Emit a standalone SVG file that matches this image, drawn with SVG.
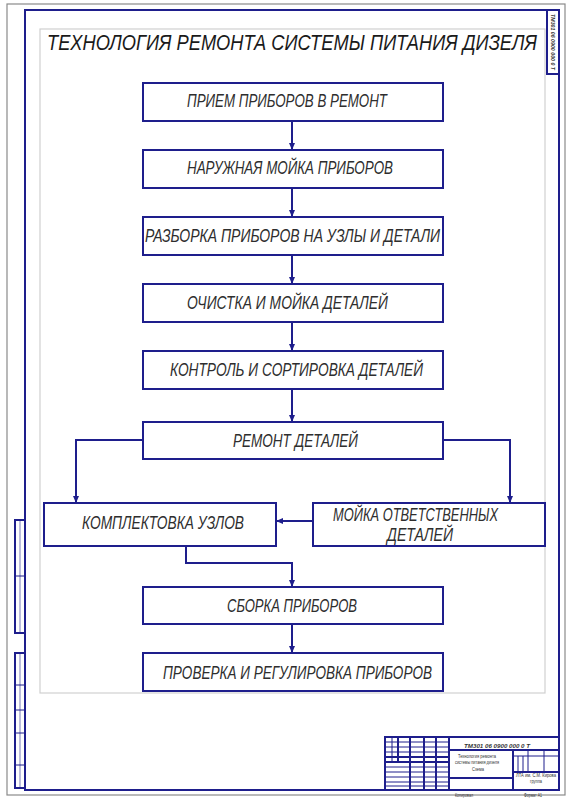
<svg xmlns="http://www.w3.org/2000/svg" width="571" height="800" viewBox="0 0 571 800">
<style>
.frame{fill:none;stroke:#1e1e8c;stroke-width:2}
.thin{fill:none;stroke:#1e1e8c;stroke-width:1}
.box{fill:#fff;stroke:#1e1e8c;stroke-width:2}
.con{fill:none;stroke:#1e1e8c;stroke-width:2}
.t{font-family:"Liberation Sans",Arial,sans-serif;font-style:italic;font-size:18px;fill:#2e2e2e}
.title{font-family:"Liberation Sans",Arial,sans-serif;font-style:italic;font-size:18px;fill:#1a1a1a}
.tiny{font-family:"Liberation Sans",Arial,sans-serif;font-size:5px;fill:#333}
</style>
<defs>
<marker id="ah" markerUnits="userSpaceOnUse" markerWidth="8" markerHeight="8" refX="7" refY="4" orient="auto">
<path d="M0,1 L7,4 L0,7 Z" fill="#1e1e8c"/>
</marker>
</defs>
<rect x="0" y="0" width="571" height="800" fill="#fff"/>
<rect x="7" y="4" width="558" height="791" fill="none" stroke="#8a8a8a" stroke-width="1.2"/>
<rect x="25" y="10" width="534" height="780" class="frame"/>
<rect x="40" y="29" width="505" height="664" fill="none" stroke="#d0d0d0" stroke-width="1.2"/>
<g id="stamp-top">
<rect x="547" y="10" width="12" height="64" class="frame"/>
<text class="tiny" font-size="6" font-weight="bold" font-style="italic" transform="translate(551,14) rotate(90)" textLength="56" lengthAdjust="spacingAndGlyphs">ТМ301 06 0900 000 0 Т</text>
</g>
<g id="left-strips">
<rect x="15" y="520" width="10" height="113" class="frame"/>
<line x1="15" y1="576" x2="25" y2="576" class="thin"/>
<rect x="15" y="653" width="10" height="135" class="frame"/>
<line x1="15" y1="685" x2="25" y2="685" class="thin"/>
<line x1="15" y1="710" x2="25" y2="710" class="thin"/>
<line x1="15" y1="733" x2="25" y2="733" class="thin"/>
<line x1="15" y1="765" x2="25" y2="765" class="thin"/>
<line x1="20" y1="520" x2="20" y2="633" stroke="#1e1e8c" stroke-width="0.6"/>
<line x1="20" y1="653" x2="20" y2="788" stroke="#1e1e8c" stroke-width="0.6"/>
</g>
<g id="title">
<text class="title" transform="translate(47,50) scale(1,1.2)" x="0" y="0" textLength="490" lengthAdjust="spacingAndGlyphs">ТЕХНОЛОГИЯ РЕМОНТА СИСТЕМЫ ПИТАНИЯ ДИЗЕЛЯ</text>
</g>
<g id="connectors">
<path class="con" d="M292 121 V150" marker-end="url(#ah)"/>
<path class="con" d="M292 188 V217" marker-end="url(#ah)"/>
<path class="con" d="M292 255 V284" marker-end="url(#ah)"/>
<path class="con" d="M292 322 V351" marker-end="url(#ah)"/>
<path class="con" d="M292 389 V422" marker-end="url(#ah)"/>
<path class="con" d="M143 440 H76 V503" marker-end="url(#ah)"/>
<path class="con" d="M443 440 H510 V503" marker-end="url(#ah)"/>
<path class="con" d="M313 521 H276" marker-end="url(#ah)"/>
<path class="con" d="M186 546 V563 H292 V587" marker-end="url(#ah)"/>
<path class="con" d="M292 624 V653" marker-end="url(#ah)"/>
</g>
<g id="n1"><rect class="box" x="143" y="83" width="300" height="38"/><text class="t" x="187" y="107" textLength="200" lengthAdjust="spacingAndGlyphs">ПРИЕМ ПРИБОРОВ В РЕМОНТ</text></g>
<g id="n2"><rect class="box" x="143" y="150" width="300" height="38"/><text class="t" x="187" y="174" textLength="206" lengthAdjust="spacingAndGlyphs">НАРУЖНАЯ МОЙКА ПРИБОРОВ</text></g>
<g id="n3"><rect class="box" x="143" y="217" width="300" height="38"/><text class="t" x="145" y="242" textLength="295" lengthAdjust="spacingAndGlyphs">РАЗБОРКА ПРИБОРОВ НА УЗЛЫ И ДЕТАЛИ</text></g>
<g id="n4"><rect class="box" x="143" y="284" width="300" height="38"/><text class="t" x="187" y="309" textLength="201" lengthAdjust="spacingAndGlyphs">ОЧИСТКА И МОЙКА ДЕТАЛЕЙ</text></g>
<g id="n5"><rect class="box" x="143" y="351" width="300" height="38"/><text class="t" x="170" y="376" textLength="253" lengthAdjust="spacingAndGlyphs">КОНТРОЛЬ И СОРТИРОВКА ДЕТАЛЕЙ</text></g>
<g id="n6"><rect class="box" x="143" y="422" width="300" height="37"/><text class="t" x="233" y="447" textLength="125" lengthAdjust="spacingAndGlyphs">РЕМОНТ ДЕТАЛЕЙ</text></g>
<g id="n7"><rect class="box" x="44" y="503" width="232" height="43"/><text class="t" x="82" y="529" textLength="162" lengthAdjust="spacingAndGlyphs">КОМПЛЕКТОВКА УЗЛОВ</text></g>
<g id="n8"><rect class="box" x="313" y="503" width="232" height="43"/><text class="t" x="333" y="521" textLength="165" lengthAdjust="spacingAndGlyphs">МОЙКА ОТВЕТСТВЕННЫХ</text><text class="t" x="387" y="541" textLength="66" lengthAdjust="spacingAndGlyphs">ДЕТАЛЕЙ</text></g>
<g id="n9"><rect class="box" x="143" y="587" width="300" height="37"/><text class="t" x="227" y="612" textLength="130" lengthAdjust="spacingAndGlyphs">СБОРКА ПРИБОРОВ</text></g>
<g id="n10"><rect class="box" x="143" y="653" width="300" height="38"/><text class="t" x="163" y="679" textLength="269" lengthAdjust="spacingAndGlyphs">ПРОВЕРКА И РЕГУЛИРОВКА ПРИБОРОВ</text></g>
<g id="title-block">
<rect x="385" y="737" width="174" height="53" class="frame"/>
<line x1="449" y1="737" x2="449" y2="790" class="frame"/>
<line x1="449" y1="750" x2="559" y2="750" class="frame"/>
<line x1="513" y1="750" x2="513" y2="790" class="frame"/>
<line x1="449" y1="778" x2="513" y2="778" class="frame"/>
<line x1="513" y1="756" x2="559" y2="756" class="thin"/>
<line x1="528" y1="750" x2="528" y2="772" class="thin"/>
<line x1="544" y1="750" x2="544" y2="772" class="thin"/>
<line x1="513" y1="772" x2="559" y2="772" class="frame"/>
<line x1="518" y1="756" x2="518" y2="772" class="thin"/>
<line x1="523" y1="756" x2="523" y2="772" class="thin"/>
<line x1="392" y1="737" x2="392" y2="762" class="thin"/>
<line x1="398" y1="737" x2="398" y2="762" class="frame"/>
<line x1="410" y1="737" x2="410" y2="790" class="frame"/>
<line x1="424" y1="737" x2="424" y2="790" class="frame"/>
<line x1="436" y1="737" x2="436" y2="790" class="frame"/>
<line x1="385" y1="742" x2="449" y2="742" class="thin"/>
<line x1="385" y1="747" x2="449" y2="747" class="thin"/>
<line x1="385" y1="752" x2="449" y2="752" class="thin"/>
<line x1="385" y1="757" x2="449" y2="757" class="frame"/>
<line x1="385" y1="762" x2="449" y2="762" class="frame"/>
<line x1="385" y1="767" x2="449" y2="767" class="thin"/>
<line x1="385" y1="772" x2="449" y2="772" class="thin"/>
<line x1="385" y1="777" x2="449" y2="777" class="thin"/>
<line x1="385" y1="782" x2="449" y2="782" class="thin"/>
<line x1="385" y1="786" x2="449" y2="786" class="thin"/>
<text class="tiny" x="464" y="748" font-size="9" font-weight="bold" font-style="italic" textLength="66" lengthAdjust="spacingAndGlyphs">ТМ301 06 0900 000 0 Т</text>
<text class="tiny" x="458" y="758" textLength="38" lengthAdjust="spacingAndGlyphs">Технология ремонта</text>
<text class="tiny" x="455" y="764" textLength="44" lengthAdjust="spacingAndGlyphs">системы питания дизеля</text>
<text class="tiny" x="472" y="771" textLength="12" lengthAdjust="spacingAndGlyphs">Схема</text>
<text class="tiny" x="516" y="777" font-size="4" textLength="40" lengthAdjust="spacingAndGlyphs">ЛТА им. С.М. Кирова</text>
<text class="tiny" x="530" y="783" font-size="4" textLength="12" lengthAdjust="spacingAndGlyphs">группа</text>
</g>
<g id="sheet-notes">
<text class="tiny" x="455" y="797" fill="#666" textLength="18" lengthAdjust="spacingAndGlyphs">Копировал</text>
<text class="tiny" x="524" y="797" fill="#666" textLength="18" lengthAdjust="spacingAndGlyphs">Формат А1</text>
</g>
</svg>
